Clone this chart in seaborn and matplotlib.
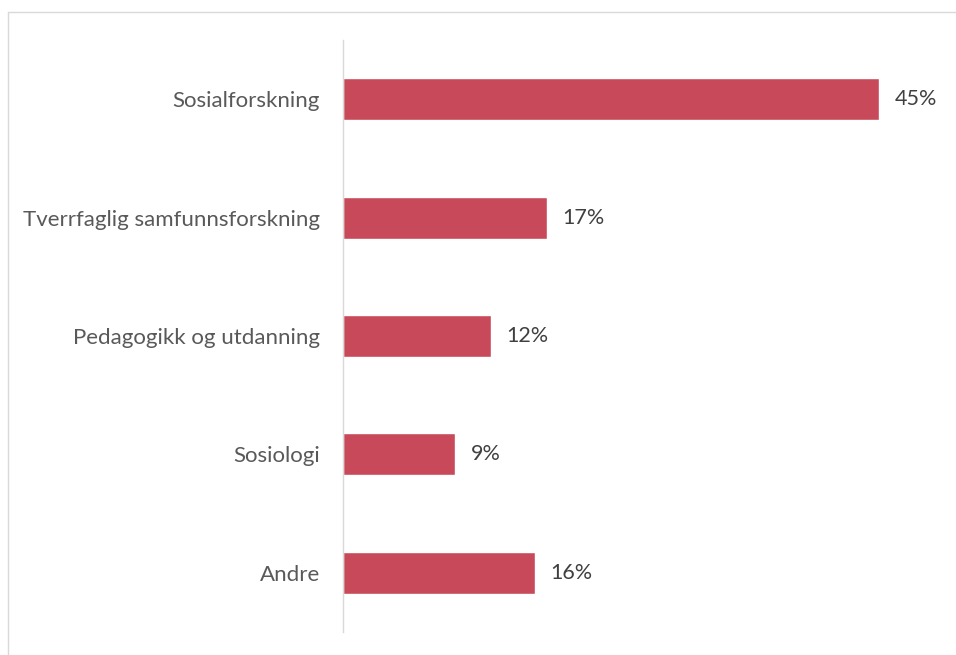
import matplotlib
matplotlib.use("Agg")
import matplotlib.pyplot as plt
import seaborn as sns
import pandas as pd
from matplotlib.lines import Line2D

# data
fields = ["Sosialforskning", "Tverrfaglig samfunnsforskning",
          "Pedagogikk og utdanning", "Sosiologi", "Andre"]
shares = [45.0, 17.1, 12.4, 9.4, 16.1]

BAR_COLOR = "#C84A5A"

sns.set_style("white")
plt.rcParams["font.family"] = ["Lato", "DejaVu Sans"]

df = pd.DataFrame({"field": fields, "share": shares})

fig = plt.figure(figsize=(9.56, 6.55), dpi=100)
ax = fig.add_axes([0.3585, 0.035, 0.982 - 0.3585, 0.904])

sns.barplot(data=df, x="share", y="field", order=fields, color=BAR_COLOR,
            width=0.355, saturation=1, ax=ax)

ax.set_xlim(0, 50)
ax.set_ylim(4.5, -0.5)
ax.set_xlabel("")
ax.set_ylabel("")
ax.set_xticks([])
for side in ["top", "right", "bottom"]:
    ax.spines[side].set_visible(False)
ax.spines["left"].set_color("#D9D9D9")
ax.spines["left"].set_linewidth(1.0)
ax.tick_params(axis="y", length=0, pad=16.5, labelsize=16, labelcolor="#595959")

for patch, val in zip(ax.patches, shares):
    ax.annotate(f"{val:.0f}%",
                (patch.get_width(), patch.get_y() + patch.get_height() / 2),
                xytext=(11.5, 0), textcoords="offset points",
                ha="left", va="center", fontsize=15.5, color="#404040")

# chart-area border (only left and top edges are inside the picture)
fig.add_artist(Line2D([8 / 956, 8 / 956], [0, 1 - 12 / 655],
                      transform=fig.transFigure, color="#D9D9D9", linewidth=1.0))
fig.add_artist(Line2D([8 / 956, 1], [1 - 12 / 655, 1 - 12 / 655],
                      transform=fig.transFigure, color="#D9D9D9", linewidth=1.0))

fig.savefig("out.png", dpi=100)
